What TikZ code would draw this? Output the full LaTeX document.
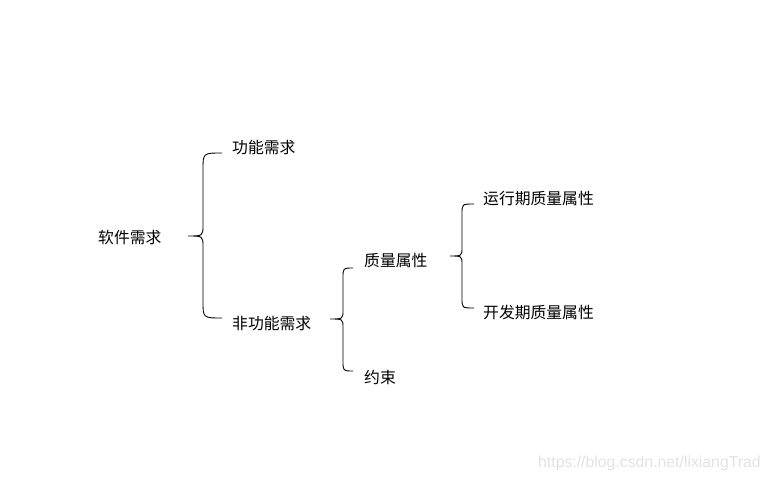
\documentclass[tikz,border=0pt]{standalone}
\usepackage{fontspec}
\setmainfont{Liberation Sans}
\newfontfamily\cjk{Noto Sans CJK SC}
\begin{document}
\begin{tikzpicture}[x=1pt,y=-1pt,
  lbl/.style={anchor=west,inner sep=0pt,font=\cjk\fontsize{15.8}{16}\selectfont},
  bracepath/.style={line width=0.9pt,black},
  wm/.style={anchor=west,inner sep=0pt,text=black!11,font=\fontsize{15.8}{16}\selectfont}]
\useasboundingbox[fill=white] (0,0) rectangle (771,481);
% texts
\node[lbl] (root) at (98,238) {软件需求};
\node[lbl] (func) at (232,147) {功能需求};
\node[lbl] (nfunc) at (232,323) {非功能需求};
\node[lbl] (qual) at (364,261) {质量属性};
\node[lbl] (cons) at (364,377) {约束};
\node[lbl] (run) at (483,199) {运行期质量属性};
\node[lbl] (dev) at (483,312) {开发期质量属性};
\node[wm] (wmark) at (538,463) {https://blog.csdn.net/lixiangTrad};
% brace 1
\coordinate (t1) at (222,153);
\coordinate (p1) at (188,236);
\coordinate (b1) at (222,318);
\draw[bracepath] (t1) .. controls (203,153) .. (203,170) -- (203,225)
   .. controls (203,236) .. (p1) .. controls (203,236) .. (203,247) -- (203,301)
   .. controls (203,318) .. (b1);
% brace 2
\coordinate (t2) at (353,268);
\coordinate (p2) at (330,319);
\coordinate (b2) at (353,371);
\draw[bracepath] (t2) .. controls (343,268) .. (343,278) -- (343,310)
   .. controls (343,319) .. (p2) .. controls (343,319) .. (343,328) -- (343,361)
   .. controls (343,371) .. (b2);
% brace 3
\coordinate (t3) at (474,204);
\coordinate (p3) at (450,256);
\coordinate (b3) at (474,308);
\draw[bracepath] (t3) .. controls (462,204) .. (462,214) -- (462,247)
   .. controls (462,256) .. (p3) .. controls (462,256) .. (462,265) -- (462,298)
   .. controls (462,308) .. (b3);
\end{tikzpicture}
\end{document}
